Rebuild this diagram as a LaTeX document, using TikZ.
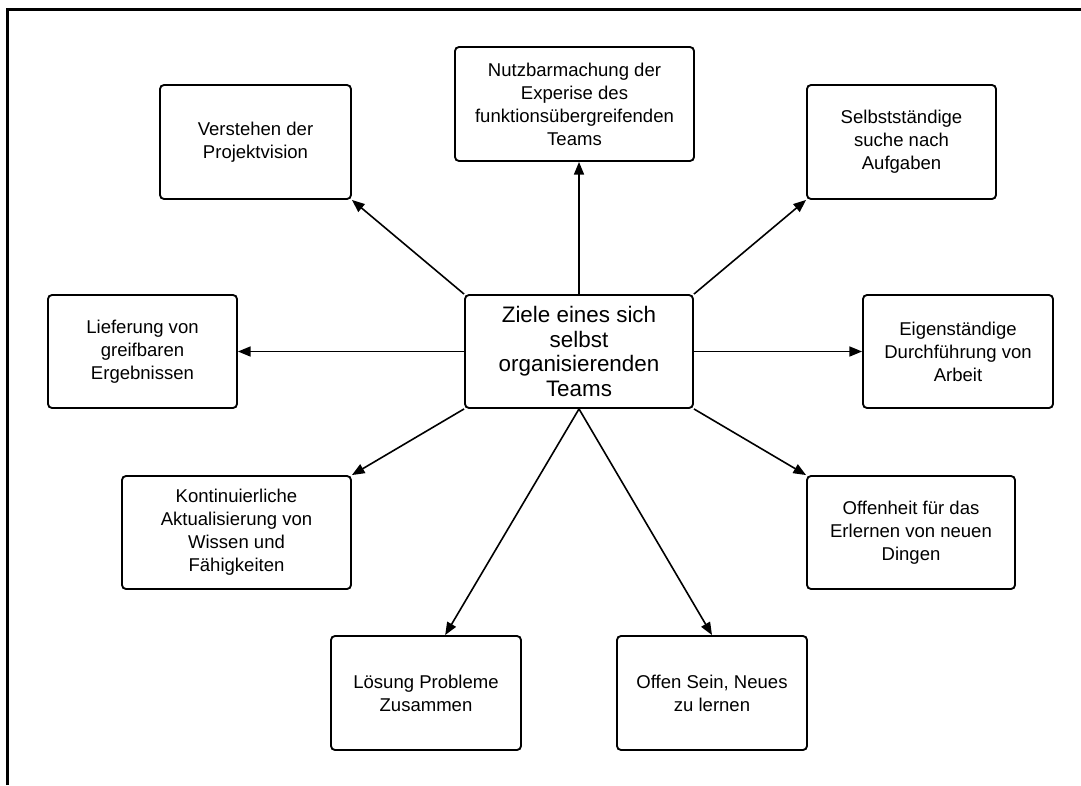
\documentclass[tikz,border=0pt]{standalone}
\usepackage{fontspec}
\setmainfont{Liberation Sans}
\usetikzlibrary{arrows.meta,calc}
\begin{document}
\begin{tikzpicture}[x=0.75pt,y=-0.75pt,
  box/.style={draw, line width=1.4pt, rounded corners=3pt, align=center, font=\fontsize{13.9}{17.2}\selectfont, inner sep=0pt},
  mainbox/.style={box, font=\fontsize{16.8}{18.5}\selectfont},
  conn/.style={line width=1.2pt, -{Triangle[length=9.5pt,width=7.5pt]}},
  frame/.style={line width=2.2pt}]
\useasboundingbox (0,0) rectangle (1081,785);
\coordinate (fa) at (7.5,785);
\coordinate (fb) at (7.5,9.5);
\coordinate (fc) at (1081,9.5);
\draw[frame] (fa) -- (fb) -- (fc);

\node[mainbox, minimum width=171pt, minimum height=84.75pt] (c) at (579,351.5) {Ziele eines sich\\selbst\\organisierenden\\Teams};

\node[box, minimum width=143.25pt, minimum height=85.5pt] (verst) at (255.5,142) {Verstehen der\\Projektvision};
\node[box, minimum width=179.25pt, minimum height=85.5pt] (nutz) at (574.5,104) {Nutzbarmachung der\\Experise des\\funktionsübergreifenden\\Teams};
\node[box, minimum width=141.75pt, minimum height=85.5pt] (selb) at (901.5,142) {Selbstständige\\suche nach\\Aufgaben};
\node[box, minimum width=142.5pt, minimum height=84.75pt] (eigen) at (958,351.5) {Eigenständige\\Durchführung von\\Arbeit};
\node[box, minimum width=141.75pt, minimum height=84.75pt] (liefer) at (142.5,351.5) {Lieferung von\\greifbaren\\Ergebnissen};
\node[box, minimum width=171.75pt, minimum height=84.75pt] (kont) at (236.5,532.5) {Kontinuierliche\\Aktualisierung von\\Wissen und\\Fähigkeiten};
\node[box, minimum width=156pt, minimum height=84.75pt] (offh) at (911,532.5) {Offenheit für das\\Erlernen von neuen\\Dingen};
\node[box, minimum width=142.5pt, minimum height=85.5pt] (loes) at (426,693) {Lösung Probleme\\Zusammen};
\node[box, minimum width=142.5pt, minimum height=85.5pt] (offen) at (712,693) {Offen Sein, Neues\\zu lernen};

\draw[conn] (c.north west) -- (verst.south east);
\draw[conn] (c.north) -- (c.north |- nutz.south);
\draw[conn] (c.north east) -- (selb.south west);
\draw[conn] (c.east) -- (eigen.west);
\draw[conn] (c.west) -- (liefer.east);
\draw[conn] (c.south west) -- (kont.north east);
\draw[conn] (c.south east) -- (offh.north west);
\draw[conn] (c.south) -- ($(loes.north west)!0.6!(loes.north east)$);
\draw[conn] (c.south) -- (offen.north);
\end{tikzpicture}
\end{document}
